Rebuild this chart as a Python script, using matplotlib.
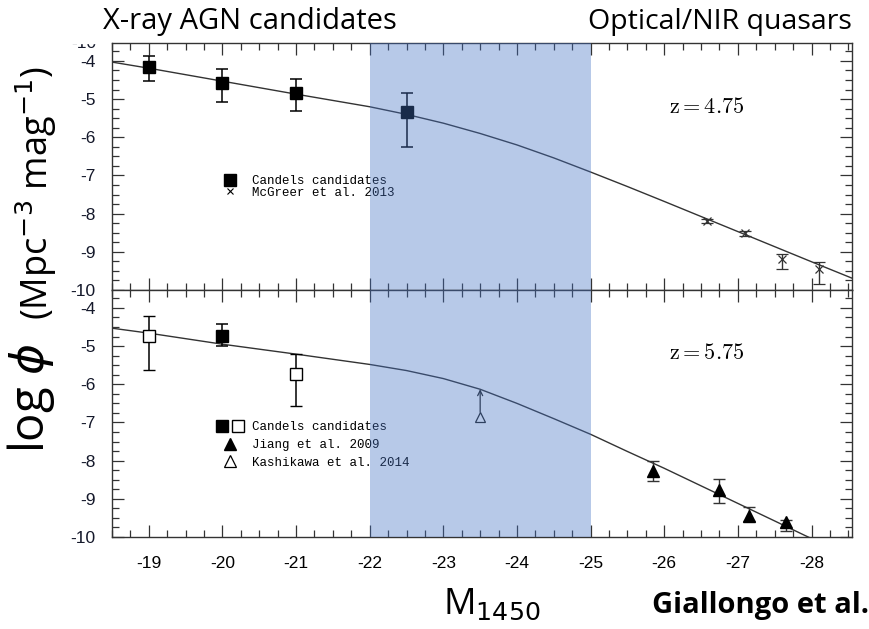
import numpy as np
import matplotlib.pyplot as plt
from matplotlib.ticker import MultipleLocator
from matplotlib.lines import Line2D
from matplotlib.legend_handler import HandlerTuple

plt.rcParams['axes.unicode_minus'] = False

W, H = 870, 629

# ---- z = 4.75 panel ----
cand_m = [-19, -20, -21, -22.5]
cand_phi = [-4.16, -4.58, -4.84, -5.34]
cand_lo = [-4.53, -5.08, -5.31, -6.25]
cand_hi = [-3.88, -4.22, -4.48, -4.84]

mcg_m = [-26.58, -27.1, -27.6, -28.1]
mcg_phi = [-8.19, -8.52, -9.20, -9.44]
mcg_lo = [-8.25, -8.59, -9.46, -9.83]
mcg_hi = [-8.13, -8.45, -9.05, -9.26]

fit1_m = [-18.5, -19, -20, -21, -22, -22.5, -23, -23.5, -24, -24.5, -25, -25.5, -26, -27, -28, -28.55]
fit1_phi = [-4.03, -4.19, -4.53, -4.87, -5.20, -5.40, -5.63, -5.90, -6.20, -6.54, -6.91, -7.29, -7.68, -8.47, -9.26, -9.69]

# ---- z = 5.75 panel ----
full_m = [-20]
full_phi = [-4.74]
full_lo = [-5.00]
full_hi = [-4.43]

open_m = [-19, -21]
open_phi = [-4.74, -5.72]
open_lo = [-5.63, -6.58]
open_hi = [-4.21, -5.21]

jiang_m = [-25.85, -26.75, -27.15, -27.66]
jiang_phi = [-8.27, -8.77, -9.45, -9.60]
jiang_lo = [-8.54, -9.10, -9.57, -9.85]
jiang_hi = [-8.02, -8.49, -9.21, -9.55]

kash_m = [-23.5]
kash_phi = [-6.85]
kash_limit = [-6.13]

fit2_m = [-18.5, -19, -20, -21, -22, -22.5, -23, -23.5, -24, -24.5, -25, -25.5, -26, -26.5, -27, -27.5, -27.9, -28.1]
fit2_phi = [-4.53, -4.66, -4.95, -5.21, -5.48, -5.64, -5.85, -6.13, -6.50, -6.90, -7.31, -7.76, -8.20, -8.66, -9.12, -9.58, -9.95, -10.13]

xticks = [-19, -20, -21, -22, -23, -24, -25, -26, -27, -28]
yticks = [-4, -5, -6, -7, -8, -9, -10]
band = (-22, -25)


def fx(px):
    return px / W


def fy(py):
    return 1 - py / H


fig = plt.figure(figsize=(8.7, 6.29), dpi=100)
left, right = 112, 852
ax1 = fig.add_axes([fx(left), fy(290), fx(right) - fx(left), fy(43) - fy(290)])
ax2 = fig.add_axes([fx(left), fy(537), fx(right) - fx(left), fy(290) - fy(537)])

ebkw = dict(ecolor='black', elinewidth=1.1, capsize=4.5, capthick=1.1, ls='none')

for ax in (ax1, ax2):
    ax.set_xlim(-18.5, -28.55)
    ax.set_ylim(-10, -3.53)
    ax.xaxis.set_major_locator(MultipleLocator(1))
    ax.xaxis.set_minor_locator(MultipleLocator(0.25))
    ax.set_yticks(yticks)
    ax.set_yticklabels([str(t) for t in yticks])
    ax.yaxis.set_minor_locator(MultipleLocator(0.25))
    ax.tick_params(which='both', direction='in', top=True, right=True,
                   color='#333333', width=0.9)
    ax.tick_params(which='major', length=8.5)
    ax.tick_params(which='minor', length=5)
    ax.tick_params(axis='y', labelsize=12.5, pad=12, labelcolor='#14182a')
    for sp in ax.spines.values():
        sp.set_color('#333333')
        sp.set_linewidth(1.0)
    ax.axvspan(band[0], band[1], color='#4472C4', alpha=0.38, lw=0, zorder=10)
    for lab in ax.get_yticklabels():
        lab.set_fontfamily('Liberation Sans')

# top panel
ax1.tick_params(axis='x', labelbottom=False)
ax1.plot(fit1_m, fit1_phi, color='#333333', lw=1.0, zorder=2)
ax1.errorbar(cand_m, cand_phi,
             yerr=[np.array(cand_phi) - np.array(cand_lo), np.array(cand_hi) - np.array(cand_phi)],
             marker='s', ms=8, mfc='black', mec='black', zorder=3, **ebkw)
ax1.errorbar(mcg_m, mcg_phi,
             yerr=[np.array(mcg_phi) - np.array(mcg_lo), np.array(mcg_hi) - np.array(mcg_phi)],
             marker='x', ms=6, mew=0.9, color='#333333', zorder=3,
             ecolor='#333333', elinewidth=1.0, capsize=4.5, capthick=1.0, ls='none')
ax1.text(-26.58, -5.2, r'$\mathrm{z=4.75}$', math_fontfamily='cm', fontsize=16,
         ha='center', va='center')

h_sq = Line2D([], [], marker='s', ls='none', color='black', ms=8)
h_x = Line2D([], [], marker='x', ls='none', color='black', ms=4, mew=0.8)
leg1 = ax1.legend([h_sq, h_x], ['Candels candidates', 'McGreer et al. 2013'],
                  loc='upper left', bbox_to_anchor=(0.151, 0.466), frameon=False,
                  prop={'family': 'Liberation Mono', 'size': 9}, handlelength=1.0,
                  handletextpad=1.3, labelspacing=-0.02, borderpad=0, borderaxespad=0)

# bottom panel
ax2.plot(fit2_m, fit2_phi, color='#333333', lw=1.0, zorder=2)
ax2.errorbar(full_m, full_phi,
             yerr=[np.array(full_phi) - np.array(full_lo), np.array(full_hi) - np.array(full_phi)],
             marker='s', ms=8, mfc='black', mec='black', zorder=3, **ebkw)
ax2.errorbar(open_m, open_phi,
             yerr=[np.array(open_phi) - np.array(open_lo), np.array(open_hi) - np.array(open_phi)],
             marker='s', ms=8, mfc='white', mec='black', mew=1.0, zorder=3, **ebkw)
ax2.errorbar(jiang_m, jiang_phi,
             yerr=[np.array(jiang_phi) - np.array(jiang_lo), np.array(jiang_hi) - np.array(jiang_phi)],
             marker='^', ms=8, mfc='black', mec='black', zorder=3,
             ecolor='#333333', elinewidth=1.0, capsize=4.5, capthick=1.0, ls='none')
ax2.plot(kash_m, kash_phi, ls='none', marker='^', ms=7, mfc='white', mec='#222222', mew=0.9, zorder=3)
for m, p, lim in zip(kash_m, kash_phi, kash_limit):
    ax2.annotate('', xy=(m, lim), xytext=(m, p + 0.12),
                 arrowprops=dict(arrowstyle='->', lw=0.9, color='#222222',
                                 shrinkA=0, shrinkB=0, mutation_scale=9))
ax2.text(-26.58, -5.18, r'$\mathrm{z=5.75}$', math_fontfamily='cm', fontsize=16,
         ha='center', va='center')
ax2.set_xticks(xticks)
ax2.set_xticklabels([str(t) for t in xticks])
ax2.tick_params(axis='x', labelsize=12.5, pad=14)
for lab in ax2.get_xticklabels():
    lab.set_fontfamily('Liberation Sans')

h_fsq = Line2D([], [], marker='s', ls='none', color='black', ms=8)
h_osq = Line2D([], [], marker='s', ls='none', mfc='white', mec='black', ms=8)
h_ftri = Line2D([], [], marker='^', ls='none', color='black', ms=8)
h_otri = Line2D([], [], marker='^', ls='none', mfc='white', mec='black', ms=8, mew=0.9)
leg2 = ax2.legend([(h_fsq, h_osq), h_ftri, h_otri],
                  ['Candels candidates', 'Jiang et al. 2009', 'Kashikawa et al. 2014'],
                  handler_map={tuple: HandlerTuple(ndivide=None, pad=0)},
                  loc='upper left', bbox_to_anchor=(0.138, 0.468), frameon=False,
                  prop={'family': 'Liberation Mono', 'size': 9}, handlelength=2.5,
                  handletextpad=0.56, labelspacing=0.45, borderpad=0, borderaxespad=0)

# cut-off "-10" remnant above the top panel
fig.text(fx(96), fy(44), '-10', ha='right', va='center', fontsize=12.5,
         family='Liberation Sans', color='#14182a')
fig.patches.append(plt.Rectangle((fx(60), fy(42.5)), fx(45), fy(30) - fy(42.5),
                                 transform=fig.transFigure, color='white', zorder=5))

# headers and labels
fig.text(fx(103), fy(22), 'X-ray AGN candidates', ha='left', va='center',
         fontsize=21, family='Open Sans')
fig.text(fx(852), fy(22), 'Optical/NIR quasars', ha='right', va='center',
         fontsize=20.5, family='Open Sans')
fig.text(fx(31), fy(398), r'log $\phi$', rotation=90, ha='center', va='center',
         fontsize=34, family='Open Sans', math_fontfamily='dejavusans')
fig.text(fx(36), fy(193), r'(Mpc$^{-3}$ mag$^{-1}$)', rotation=90, ha='center', va='center',
         fontsize=26, family='Open Sans', math_fontfamily='dejavusans')
fig.text(fx(492), fy(605), r'M$_{1450}$', ha='center', va='center',
         fontsize=26, family='Open Sans', math_fontfamily='dejavusans')
fig.text(fx(652), fy(606), 'Giallongo et al.', ha='left', va='center',
         fontsize=21, family='Open Sans', weight='bold')

fig.savefig('out.png', dpi=100)
